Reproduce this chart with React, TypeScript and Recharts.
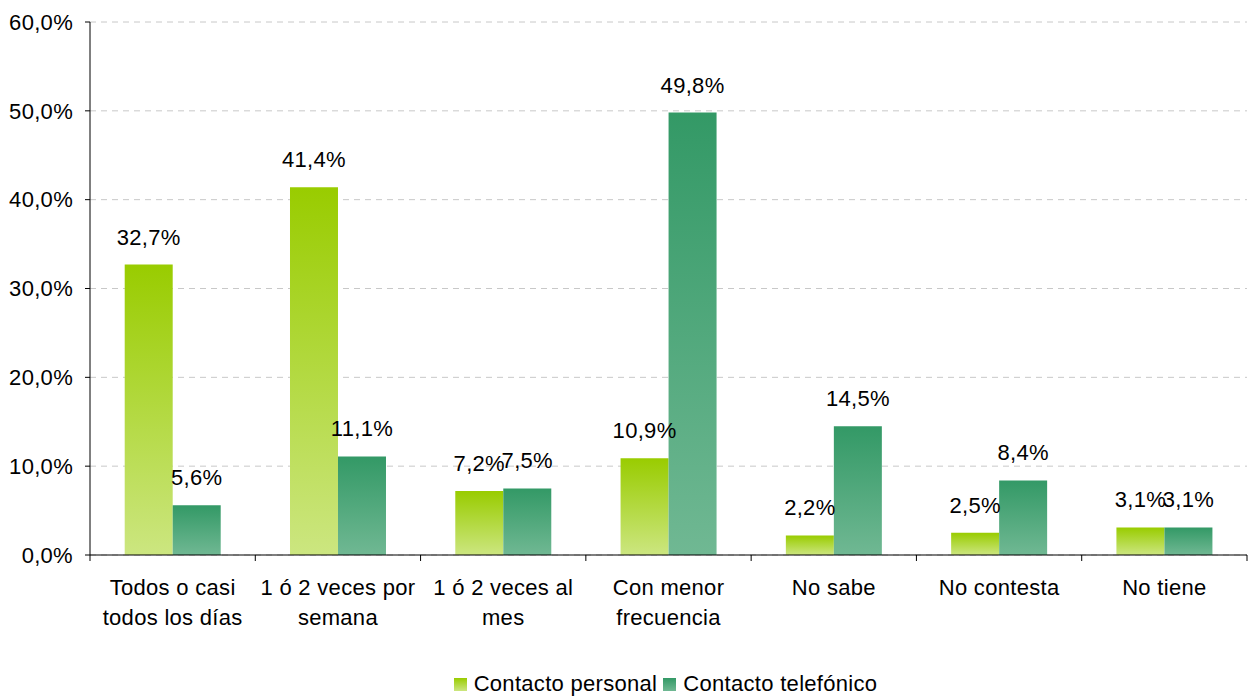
import React from 'react';
import { BarChart, Bar, XAxis, YAxis, CartesianGrid, Legend, LabelList } from 'recharts';

const categories = [
  'Todos o casi\ntodos los días',
  '1 ó 2 veces por\nsemana',
  '1 ó 2 veces al\nmes',
  'Con menor\nfrecuencia',
  'No sabe',
  'No contesta',
  'No tiene',
];
const personal = [32.7, 41.4, 7.2, 10.9, 2.2, 2.5, 3.1];
const telefonico = [5.6, 11.1, 7.5, 49.8, 14.5, 8.4, 3.1];
const yTicks = [0, 10, 20, 30, 40, 50, 60];
const seriesNames = ['Contacto personal', 'Contacto telefónico'];

const FONT = '"Liberation Sans", Arial, sans-serif';
const FS = 22;
const LS = 0.3;
const GREEN = ['#99CC00', '#CCE680'];
const TEAL = ['#339966', '#70B893'];

const data = categories.map((c, i) => ({
  name: c,
  personal: personal[i],
  telefonico: telefonico[i],
}));

const fmt = (v: number) => `${v.toFixed(1).replace('.', ',')}%`;

function CategoryTick(props: any) {
  const { x, y, payload, index } = props;
  const half = payload.offset || 0;
  const lines = String(payload.value).split('\n');
  return (
    <g>
      <line x1={x + half} x2={x + half} y1={y - 14} y2={y - 8} stroke="#000" />
      {index === 0 && <line x1={x - half} x2={x - half} y1={y - 14} y2={y - 8} stroke="#000" />}
      <text x={x} y={y} textAnchor="middle" fontSize={FS} fontFamily={FONT} letterSpacing={LS} fill="#000">
        {lines.map((l, i) => (
          <tspan key={i} x={x} dy={i === 0 ? 26 : 30}>
            {l}
          </tspan>
        ))}
      </text>
    </g>
  );
}

function LegendContent() {
  const items = [
    { label: seriesNames[0], c: GREEN },
    { label: seriesNames[1], c: TEAL },
  ];
  return (
    <div style={{ display: 'flex', justifyContent: 'center', alignItems: 'center', height: 24, paddingLeft: 90, fontFamily: FONT, fontSize: FS, letterSpacing: LS, color: '#000' }}>
      {items.map((it) => (
        <div key={it.label} style={{ display: 'flex', alignItems: 'center', marginRight: 6 }}>
          <span style={{ display: 'inline-block', width: 13, height: 13, marginRight: 7, background: `linear-gradient(${it.c[0]}, ${it.c[1]})` }} />
          <span>{it.label}</span>
        </div>
      ))}
    </div>
  );
}

export default function App() {
  return (
    <div style={{ position: 'absolute', left: 0, top: 0, background: '#fff' }}>
      <BarChart
        width={1250}
        height={696}
        data={data}
        margin={{ top: 22, right: 3, left: 0, bottom: 0 }}
        barCategoryGap="21%"
        barGap={0}
      >
        <defs>
          <linearGradient id="gPersonal" x1="0" y1="0" x2="0" y2="1">
            <stop offset="0%" stopColor={GREEN[0]} />
            <stop offset="100%" stopColor={GREEN[1]} />
          </linearGradient>
          <linearGradient id="gTelefonico" x1="0" y1="0" x2="0" y2="1">
            <stop offset="0%" stopColor={TEAL[0]} />
            <stop offset="100%" stopColor={TEAL[1]} />
          </linearGradient>
        </defs>
        <CartesianGrid vertical={false} stroke="#C8C8C8" strokeDasharray="6 5" />
        <XAxis
          dataKey="name"
          interval={0}
          height={117}
          axisLine={{ stroke: '#000' }}
          tickLine={false}
          tick={<CategoryTick />}
          tickSize={14}
          tickMargin={0}
        />
        <YAxis
          width={90}
          domain={[0, 60]}
          ticks={yTicks}
          tickFormatter={fmt}
          axisLine={{ stroke: '#000' }}
          tickLine={{ stroke: '#000' }}
          tickSize={5}
          tickMargin={12}
          tick={{ fill: '#000', fontSize: FS, fontFamily: FONT, letterSpacing: LS }}
        />
        <Legend verticalAlign="bottom" content={<LegendContent />} />
        <Bar dataKey="personal" name={seriesNames[0]} fill="url(#gPersonal)" isAnimationActive={false}>
          <LabelList dataKey="personal" position="top" offset={20} formatter={fmt} fill="#000" fontSize={FS} fontFamily={FONT} letterSpacing={LS} />
        </Bar>
        <Bar dataKey="telefonico" name={seriesNames[1]} fill="url(#gTelefonico)" isAnimationActive={false}>
          <LabelList dataKey="telefonico" position="top" offset={20} formatter={fmt} fill="#000" fontSize={FS} fontFamily={FONT} letterSpacing={LS} />
        </Bar>
      </BarChart>
    </div>
  );
}
